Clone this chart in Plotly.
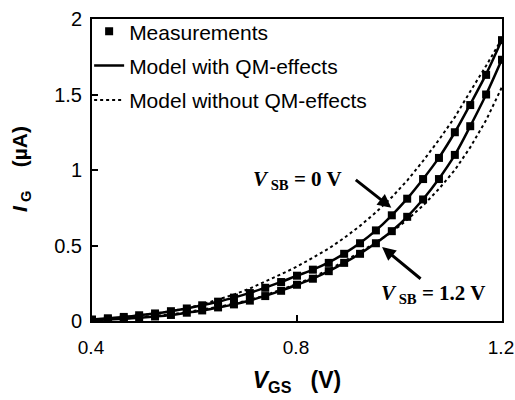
import plotly.graph_objects as go

# Gate voltage V_GS (V)
vgs = [0.400, 0.431, 0.462, 0.492, 0.523, 0.554, 0.585, 0.615, 0.646, 0.677,
       0.708, 0.738, 0.769, 0.800, 0.831, 0.862, 0.892, 0.923, 0.954, 0.985,
       1.015, 1.046, 1.077, 1.108, 1.138, 1.169, 1.200]

# Measurements, gate current I_G (uA)
meas_vsb0 = [0.010, 0.018, 0.027, 0.038, 0.050, 0.065, 0.083, 0.104, 0.128, 0.155,
             0.185, 0.220, 0.258, 0.300, 0.340, 0.385, 0.445, 0.515, 0.600, 0.700,
             0.810, 0.940, 1.080, 1.250, 1.430, 1.630, 1.860]
meas_vsb12 = [0.005, 0.010, 0.015, 0.022, 0.030, 0.040, 0.055, 0.070, 0.090, 0.110,
              0.135, 0.165, 0.200, 0.240, 0.280, 0.330, 0.385, 0.445, 0.515, 0.595,
              0.690, 0.805, 0.940, 1.100, 1.290, 1.500, 1.730]

# Model with QM-effects
qm_vsb0 = [0.010, 0.018, 0.027, 0.038, 0.050, 0.065, 0.083, 0.104, 0.128, 0.155,
           0.186, 0.221, 0.259, 0.300, 0.340, 0.388, 0.446, 0.516, 0.600, 0.700,
           0.810, 0.940, 1.082, 1.250, 1.435, 1.635, 1.865]
qm_vsb12 = [0.005, 0.010, 0.015, 0.022, 0.030, 0.040, 0.055, 0.070, 0.090, 0.110,
            0.136, 0.166, 0.201, 0.240, 0.281, 0.330, 0.385, 0.446, 0.516, 0.596,
            0.690, 0.806, 0.942, 1.100, 1.290, 1.500, 1.735]

# Model without QM-effects
noqm_vsb0 = [0.010, 0.015, 0.025, 0.035, 0.050, 0.065, 0.085, 0.110, 0.140, 0.175,
             0.215, 0.260, 0.310, 0.360, 0.420, 0.480, 0.550, 0.630, 0.720, 0.820,
             0.930, 1.060, 1.200, 1.350, 1.520, 1.690, 1.870]
noqm_vsb12 = [0.006, 0.010, 0.016, 0.024, 0.033, 0.044, 0.058, 0.074, 0.093, 0.115,
              0.140, 0.170, 0.205, 0.245, 0.290, 0.340, 0.395, 0.455, 0.520, 0.590,
              0.670, 0.765, 0.875, 1.000, 1.150, 1.330, 1.550]

x_ticks = [0.4, 0.8, 1.2]
y_ticks = [0, 0.5, 1, 1.5, 2]

sans = "Arial, Liberation Sans, sans-serif"
serif = "Times New Roman, Liberation Serif, serif"

fig = go.Figure()

# dotted (without QM)
fig.add_trace(go.Scatter(x=vgs, y=noqm_vsb0, mode="lines", line=dict(color="black", width=2, dash="dot"),
                         name="Model without QM-effects", legendgroup="c", legendrank=3))
fig.add_trace(go.Scatter(x=vgs, y=noqm_vsb12, mode="lines", line=dict(color="black", width=2, dash="dot"),
                         showlegend=False, legendgroup="c"))
# solid (with QM)
fig.add_trace(go.Scatter(x=vgs, y=qm_vsb0, mode="lines", line=dict(color="black", width=2.5, shape="spline"),
                         name="Model with QM-effects", legendgroup="b", legendrank=2))
fig.add_trace(go.Scatter(x=vgs, y=qm_vsb12, mode="lines", line=dict(color="black", width=2.5, shape="spline"),
                         showlegend=False, legendgroup="b"))
# measurements
fig.add_trace(go.Scatter(x=vgs, y=meas_vsb0, mode="markers",
                         marker=dict(symbol="square", size=8, color="black"),
                         name="Measurements", legendgroup="a", legendrank=1))
fig.add_trace(go.Scatter(x=vgs, y=meas_vsb12, mode="markers",
                         marker=dict(symbol="square", size=8, color="black"),
                         showlegend=False, legendgroup="a"))

# Annotation arrows
fig.add_annotation(x=0.984, y=0.75, ax=355 - 392, ay=176 - 205, text="", showarrow=True,
                   arrowhead=2, arrowsize=0.9, arrowwidth=3, arrowcolor="black")
fig.add_annotation(x=0.966, y=0.49, ax=423 - 383, ay=278 - 245, text="", showarrow=True,
                   arrowhead=2, arrowsize=0.9, arrowwidth=3, arrowcolor="black")
fig.add_annotation(x=0.801, y=0.935, text="<b><i>V</i><sub> SB</sub> = 0 V</b>", showarrow=False,
                   font=dict(family=serif, size=21, color="black"))
fig.add_annotation(x=1.066, y=0.18, text="<b><i>V</i><sub> SB</sub> = 1.2 V</b>", showarrow=False,
                   font=dict(family=serif, size=21, color="black"))

# Y-axis title
fig.add_annotation(xref="paper", yref="paper", x=(21 - 92) / 410, y=(321 - 165) / 310,
                   xanchor="center", yanchor="middle",
                   text="<b><i>I</i><sub> G</sub>    (µA)</b>", textangle=-90, showarrow=False,
                   font=dict(family=sans, size=21, color="black"))

fig.update_layout(
    width=515, height=400,
    margin=dict(l=92, r=13, t=11, b=79),
    paper_bgcolor="white", plot_bgcolor="white",
    font=dict(family=sans, size=20, color="black"),
    showlegend=True,
    legend=dict(x=-0.007, y=1.026, xanchor="left", yanchor="top", bgcolor="rgba(0,0,0,0)",
                font=dict(family=sans, size=21), tracegroupgap=4, traceorder="grouped"),
    xaxis=dict(range=[0.4, 1.2], tickvals=x_ticks, ticktext=["0.4", "0.8", "1.2"],
               ticks="inside", ticklen=6, tickwidth=2, tickcolor="black",
               showline=True, linewidth=2, linecolor="black", mirror=True,
               showgrid=False, zeroline=False, ticklabelstandoff=8, automargin=False,
               ticklabeloverflow="allow", ticklabelshift=-1,
               tickfont=dict(family=sans, size=19),
               title=dict(text="<b><i>V</i><sub>GS</sub>   (V)</b>", font=dict(family=sans, size=23), standoff=15)),
    yaxis=dict(range=[0, 2], tickvals=y_ticks, ticktext=["0", "0.5", "1", "1.5", "2"],
               ticks="inside", ticklen=6, tickwidth=2, tickcolor="black",
               showline=True, linewidth=2, linecolor="black", mirror=True,
               showgrid=False, zeroline=False, ticklabelstandoff=4, automargin=False,
               ticklabeloverflow="allow",
               tickfont=dict(family=sans, size=20)),
)

fig.write_html("out.html")
